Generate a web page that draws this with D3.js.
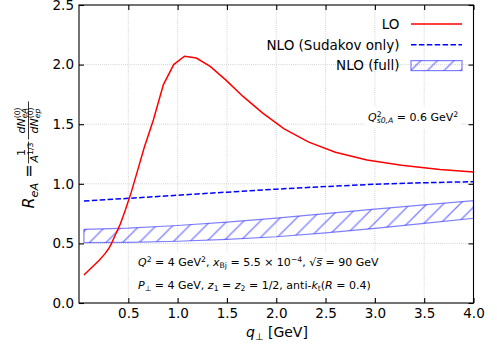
<!DOCTYPE html>
<html>
<head>
<meta charset="utf-8">
<script src="https://cdn.jsdelivr.net/npm/d3@7"></script>
<style>
  body { margin: 0; background: #fff; }
  svg { font-family: "DejaVu Sans", sans-serif; }
</style>
</head>
<body>
<svg id="chart" width="497" height="350"></svg>
<script>
// LO curve
const qLO = [0.05, 0.10, 0.15, 0.20, 0.26, 0.30, 0.33, 0.37, 0.42, 0.47, 0.53, 0.59, 0.66,
             0.754, 0.855, 0.96, 1.07, 1.19, 1.33, 1.49, 1.66, 1.86, 2.08, 2.33, 2.60, 2.92,
             3.27, 3.66, 4.0];
const LO = [0.235, 0.275, 0.315, 0.355, 0.41, 0.455, 0.50, 0.575, 0.665, 0.78, 0.93, 1.10, 1.30,
            1.535, 1.83, 2.0, 2.07, 2.055, 1.985, 1.87, 1.735, 1.595, 1.46, 1.35, 1.265, 1.20,
            1.155, 1.12, 1.10];
// NLO curves
const qNLO = [0.05, 0.5, 1.0, 1.5, 2.0, 2.5, 3.0, 3.5, 4.0];
const sudakov = [0.856, 0.878, 0.904, 0.930, 0.955, 0.977, 0.996, 1.009, 1.018];
const fullLow = [0.506, 0.509, 0.518, 0.533, 0.556, 0.589, 0.626, 0.668, 0.711];
const fullHigh = [0.617, 0.628, 0.650, 0.678, 0.712, 0.750, 0.787, 0.823, 0.858];

const xTicks = [0.5, 1.0, 1.5, 2.0, 2.5, 3.0, 3.5, 4.0];
const yTicks = [0.0, 0.5, 1.0, 1.5, 2.0, 2.5];
const legendLabels = ['LO', 'NLO (Sudakov only)', 'NLO (full)'];

const svg = d3.select('#chart');
const x = d3.scaleLinear().domain([0, 4]).range([79, 473.5]);
const y = d3.scaleLinear().domain([0, 2.5]).range([303, 5]);
const bandCol = 'rgba(0,0,255,0.5)';

// hatch pattern "/"
const hs = 16.6;
const pat = svg.append('defs').append('pattern')
  .attr('id', 'hatch').attr('patternUnits', 'userSpaceOnUse')
  .attr('width', hs).attr('height', hs);
pat.append('path')
  .attr('d', `M0,${hs} L${hs},0 M-2,2 L2,-2 M${hs-2},${hs+2} L${hs+2},${hs-2}`)
  .attr('stroke', bandCol).attr('stroke-width', 1.3);

// grid
const grid = svg.append('g').attr('stroke', '#bdbdbd').attr('stroke-width', 0.8)
  .attr('stroke-dasharray', '0.8,1.3');
grid.selectAll('.gx').data(xTicks.filter(d => d < 4)).enter().append('line')
  .attr('x1', d => x(d)).attr('x2', d => x(d)).attr('y1', y(0)).attr('y2', y(2.5));
grid.selectAll('.gy').data(yTicks.filter(d => d > 0 && d < 2.5)).enter().append('line')
  .attr('y1', d => y(d)).attr('y2', d => y(d)).attr('x1', x(0)).attr('x2', x(4));

// rich text helper: parts = [text, flags]; i italic, ^ sup, _ sub, b stacked on previous sub
function rich(g, px, py, size, parts, anchor) {
  const t = g.append('text').attr('x', px).attr('y', py).attr('font-size', size)
    .attr('text-anchor', anchor || 'start').attr('fill', '#000');
  let shift = 0, subLen = 0, carry = 0;
  parts.forEach(p => {
    const f = p[1] || '';
    const target = f.includes('^') ? -0.4 * size : f.includes('_') ? 0.22 * size : 0;
    const ts = t.append('tspan').text(p[0]).attr('dy', target - shift);
    shift = target;
    if (f.includes('^') || f.includes('_')) ts.attr('font-size', size * 0.7);
    if (f.includes('i')) ts.attr('font-style', 'italic');
    let dx = carry; carry = 0;
    if (f.includes('b')) dx -= subLen;
    if (dx) ts.attr('dx', dx);
    const len = ts.node().getComputedTextLength();
    if (f.includes('b')) { if (subLen > len) carry = subLen - len; subLen = 0; }
    else if (f.includes('_')) subLen += len;
    else subLen = 0;
  });
  return t;
}

// band
const band = d3.area().x((d, i) => x(qNLO[i])).y0(d => y(d[0])).y1(d => y(d[1]));
const bandData = fullLow.map((d, i) => [d, fullHigh[i]]);
svg.append('path').datum(bandData).attr('d', d => band(d) + 'Z')
  .attr('fill', 'url(#hatch)').attr('stroke', bandCol).attr('stroke-width', 1.2);

// sudakov dashed
svg.append('path').datum(sudakov)
  .attr('d', d3.line().x((d, i) => x(qNLO[i])).y(d => y(d)))
  .attr('fill', 'none').attr('stroke', '#0000ff').attr('stroke-width', 1.5)
  .attr('stroke-dasharray', '5.5,2.4');

// LO
svg.append('path').datum(LO)
  .attr('d', d3.line().x((d, i) => x(qLO[i])).y(d => y(d)))
  .attr('fill', 'none').attr('stroke', '#ff0000').attr('stroke-width', 1.5);

// annotations with white boxes
function boxed(build, pad) {
  const g = svg.append('g');
  const rect = g.append('rect').attr('fill', '#fff');
  const texts = build(g);
  const bb = g.node().getBBox();
  rect.attr('x', bb.x - pad).attr('y', bb.y - pad)
    .attr('width', bb.width + 2 * pad).attr('height', bb.height + 2 * pad);
}
boxed(g => {
  rich(g, 138, 266, 11, [['Q', 'i'], ['2', '^'], [' = 4 GeV'], ['2', '^'], [', '], ['x', 'i'], ['Bj', '_'],
    [' = 5.5 × 10'], ['−4', '^'], [', √'], ['s\u0305', 'i'], [' = 90 GeV']]);
  rich(g, 138, 289, 11, [['P', 'i'], ['⊥', '_'], [' = 4 GeV, '], ['z', 'i'], ['1', '_'], [' = '],
    ['z', 'i'], ['2', '_'], [' = 1/2, anti-'], ['k', 'i'], ['t', '_'], ['('], ['R', 'i'], [' = 0.4)']]);
}, 3);
boxed(g => {
  rich(g, 368, 121, 11, [['Q', 'i'], ['s0,A', '_i'], ['2', '^b'], [' = 0.6 GeV'], ['2', '^']]);
}, 3);

// axes
const fmt = d3.format('.1f');
const axB = svg.append('g').attr('transform', `translate(0,${y(0)})`)
  .call(d3.axisBottom(x).tickValues(xTicks).tickFormat(fmt).tickSizeInner(-5).tickSizeOuter(0).tickPadding(5.5));
const axL = svg.append('g').attr('transform', `translate(${x(0)},0)`)
  .call(d3.axisLeft(y).tickValues(yTicks).tickFormat(fmt).tickSizeInner(-5).tickSizeOuter(0).tickPadding(5));
const axT = svg.append('g').attr('transform', `translate(0,${y(2.5)})`)
  .call(d3.axisTop(x).tickValues(xTicks).tickFormat('').tickSizeInner(-5).tickSizeOuter(0));
const axR = svg.append('g').attr('transform', `translate(${x(4)},0)`)
  .call(d3.axisRight(y).tickValues(yTicks).tickFormat('').tickSizeInner(-5).tickSizeOuter(0));
[axB, axL, axT, axR].forEach(a => {
  a.select('.domain').remove();
  a.selectAll('line').attr('stroke-width', 1.1);
  a.selectAll('text').attr('font-size', 13.5).attr('font-family', 'DejaVu Sans').attr('fill', '#000');
});
svg.append('rect').attr('x', x(0)).attr('y', y(2.5)).attr('width', x(4) - x(0)).attr('height', y(0) - y(2.5))
  .attr('fill', 'none').attr('stroke', '#000').attr('stroke-width', 1.1);

// x label
rich(svg, 277, 337, 14, [['q', 'i'], ['⊥', '_'], [' [GeV]']], 'middle');

// y label (rotated)
const yl = svg.append('g');
let cur = 0;
const t1 = rich(yl, 0, 34, 16, [['R', 'i'], ['eA', '_i'], [' = ']]);
cur += t1.node().getComputedTextLength() + 1;
function frac(num, den, size) {
  const n = rich(yl, 0, 24.5, size, num, 'middle');
  const d = rich(yl, 0, 37.5, size, den, 'middle');
  const w = Math.max(n.node().getComputedTextLength(), d.node().getComputedTextLength()) + 2;
  n.attr('x', cur + w / 2); d.attr('x', cur + w / 2);
  yl.append('line').attr('x1', cur).attr('x2', cur + w).attr('y1', 28.5).attr('y2', 28.5)
    .attr('stroke', '#000').attr('stroke-width', 0.8);
  cur += w + 2;
}
frac([['1']], [['A', 'i'], ['1/3', '^']], 11);
frac([['dN', 'i'], ['eA', '_i'], ['(0)', '^b']], [['dN', 'i'], ['ep', '_i'], ['(0)', '^b']], 11);
yl.attr('transform', `translate(0,${154 + cur / 2}) rotate(-90)`);

// legend
const lg = svg.append('g');
legendLabels.forEach((lab, i) => {
  const ly = 24 + i * 20.8;
  lg.append('text').attr('x', 399.5).attr('y', ly + 4.8).attr('text-anchor', 'end')
    .attr('font-size', 13.5).text(lab);
  if (i === 0) {
    lg.append('line').attr('x1', 411).attr('x2', 462).attr('y1', ly).attr('y2', ly)
      .attr('stroke', '#ff0000').attr('stroke-width', 1.5);
  } else if (i === 1) {
    lg.append('line').attr('x1', 411).attr('x2', 462).attr('y1', ly).attr('y2', ly)
      .attr('stroke', '#0000ff').attr('stroke-width', 1.5).attr('stroke-dasharray', '5.5,2.4');
  } else {
    lg.append('rect').attr('x', 411).attr('y', ly - 5).attr('width', 51).attr('height', 10)
      .attr('fill', 'url(#hatch)').attr('stroke', bandCol).attr('stroke-width', 1.2);
  }
});
</script>
</body>
</html>
